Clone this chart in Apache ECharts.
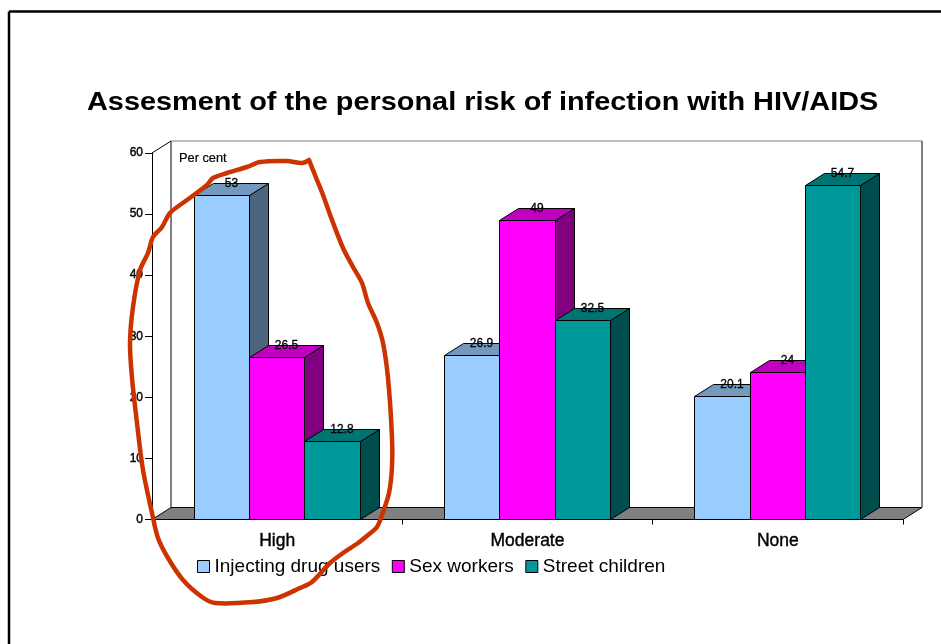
<!DOCTYPE html>
<html>
<head>
<meta charset="utf-8">
<title>Assesment of the personal risk of infection with HIV/AIDS</title>
<style>
html, body { margin: 0; padding: 0; background: #fff; }
#main { width: 941px; height: 644px; }
</style>
<script src="https://cdn.jsdelivr.net/npm/echarts@6/dist/echarts.min.js"></script>
</head>
<body>
<div id="main"></div>
<script>
var chartTitle = 'Assesment of the personal risk of infection with HIV/AIDS';
var categories = ['High', 'Moderate', 'None'];
var drugUsers = [53, 26.9, 20.1];
var sexWorkers = [26.5, 49, 24];
var streetChildren = [12.8, 32.5, 54.7];
var yTicks = [0, 10, 20, 30, 40, 50, 60];

// hand drawn circle round the "High" group
var redCircle = [
    [309, 160], [317, 180], [323, 195], [332, 220], [343, 248], [353, 267], [362, 283],
    [368, 303], [377, 323], [383, 343], [388, 378], [392, 437], [392, 467], [389, 493],
    [383, 512], [377, 527], [368, 535], [358, 543], [343, 553], [330, 563], [312, 582],
    [300, 588], [277, 598], [253, 602], [215, 603], [202, 597], [183, 580], [168, 558],
    [158, 538], [152, 513], [143, 470], [137, 423], [132, 378], [130, 343], [133, 307],
    [140, 270], [148, 253], [153, 237], [162, 227], [170, 213], [187, 200], [207, 185],
    [213, 178], [227, 173], [247, 167], [260, 162], [287, 161], [302, 163], [309, 160]
];

var fontName = '"Liberation Sans", Arial, sans-serif';
var depthX = 19;
var depthY = 12;
var barShare = 0.221;

var seriesStyles = [
    { name: 'Injecting drug users', values: drugUsers, front: '#99CCFF', top: '#7399BF', side: '#4D6680' },
    { name: 'Sex workers', values: sexWorkers, front: '#FF00FF', top: '#BF00BF', side: '#800080' },
    { name: 'Street children', values: streetChildren, front: '#009999', top: '#007373', side: '#004D4D' }
];

function poly(points, fill, stroke) {
    return {
        type: 'polygon',
        shape: { points: points },
        style: { fill: fill, stroke: stroke || '#000', lineWidth: 1 }
    };
}

function segment(x1, y1, x2, y2, color) {
    return {
        type: 'line',
        shape: { x1: x1, y1: y1, x2: x2, y2: y2 },
        style: { stroke: color || '#000', lineWidth: 1 }
    };
}

// back wall, side wall and floor of the 3D box
function renderFrame(params, api) {
    var c = params.coordSys;
    var l = c.x, t = c.y, r = c.x + c.width, b = c.y + c.height;
    return {
        type: 'group',
        children: [
            { type: 'rect', shape: { x: l + depthX, y: t - depthY, width: c.width, height: c.height }, style: { fill: '#fff' } },
            poly([[l, b], [l + depthX, b - depthY], [r + depthX, b - depthY], [r, b]], '#808080'),
            segment(l, t, l + depthX, t - depthY),
            segment(l + depthX, t - depthY, l + depthX, b - depthY),
            segment(l + depthX, t - depthY, r + depthX, t - depthY, '#808080'),
            segment(r + depthX, t - depthY, r + depthX, b - depthY)
        ]
    };
}

function makeBarRenderer(index) {
    return function (params, api) {
        var cat = api.value(0);
        var val = api.value(1);
        var base = api.coord([cat, 0]);
        var head = api.coord([cat, val]);
        var w = api.size([1, 0])[0] * barShare;
        var x0 = Math.floor(base[0] + (index - 1.5) * w) + 0.5;
        var x1 = Math.floor(base[0] + (index - 0.5) * w) + 0.5;
        var y0 = Math.floor(base[1]) + 0.5;
        var y1 = Math.floor(head[1]) + 0.5;
        var s = seriesStyles[index];
        return {
            type: 'group',
            children: [
                poly([[x1, y1], [x1 + depthX, y1 - depthY], [x1 + depthX, y0 - depthY], [x1, y0]], s.side),
                poly([[x0, y1], [x0 + depthX, y1 - depthY], [x1 + depthX, y1 - depthY], [x1, y1]], s.top),
                poly([[x0, y1], [x1, y1], [x1, y0], [x0, y0]], s.front),
                {
                    type: 'text',
                    z2: 10,
                    x: (x0 + x1) / 2 + depthX / 2,
                    y: y1 - depthY,
                    style: {
                        text: String(val),
                        fill: '#000',
                        stroke: '#000',
                        lineWidth: 0.3,
                        font: '12px ' + fontName,
                        align: 'center',
                        verticalAlign: 'middle'
                    }
                }
            ]
        };
    };
}

var series = [{
    type: 'custom',
    name: 'frame',
    z: 1,
    silent: true,
    clip: false,
    renderItem: renderFrame,
    data: [[0, 0]],
    encode: { x: 0, y: 1 }
}];

seriesStyles.forEach(function (s, i) {
    series.push({
        type: 'custom',
        name: s.name,
        z: 2 + i,
        clip: false,
        renderItem: makeBarRenderer(i),
        itemStyle: { color: s.front },
        encode: { x: 0, y: 1 },
        data: s.values.map(function (v, k) { return [k, v]; })
    });
});

var option = {
    animation: false,
    backgroundColor: '#fff',
    legend: {
        left: 197,
        top: 557,
        itemWidth: 12,
        itemHeight: 12,
        itemGap: 11.5,
        padding: 0,
        textStyle: {
            color: '#000',
            fontSize: 19,
            fontFamily: fontName
        },
        data: seriesStyles.map(function (s) {
            return {
                name: s.name,
                icon: 'rect',
                itemStyle: { color: s.front, borderColor: '#000', borderWidth: 1 }
            };
        })
    },
    grid: { left: 152, right: 38, top: 153, bottom: 124.5 },
    xAxis: {
        type: 'category',
        data: categories,
        axisLine: { lineStyle: { color: '#000', width: 1 } },
        axisTick: { show: true, length: 5, lineStyle: { color: '#000' } },
        axisLabel: {
            color: '#000',
            fontSize: 17.5,
            margin: 13,
            textBorderColor: '#000',
            textBorderWidth: 0.4,
            fontFamily: fontName
        }
    },
    yAxis: {
        type: 'value',
        min: yTicks[0],
        max: yTicks[yTicks.length - 1],
        interval: 10,
        splitLine: { show: false },
        axisLine: { show: true, lineStyle: { color: '#000', width: 1 } },
        axisTick: { show: true, length: 7, lineStyle: { color: '#000' } },
        axisLabel: {
            color: '#000',
            fontSize: 12,
            margin: 9,
            textBorderColor: '#000',
            textBorderWidth: 0.4,
            fontFamily: fontName
        }
    },
    graphic: [
        { type: 'line', z: 50, shape: { x1: 9, y1: 11.4, x2: 941, y2: 11.4 }, style: { stroke: '#000', lineWidth: 2.5 } },
        { type: 'line', z: 50, shape: { x1: 9, y1: 11.4, x2: 9, y2: 644 }, style: { stroke: '#000', lineWidth: 2.5 } },
        {
            // original is stretched sideways, so the title is scaled rather than just made bigger
            type: 'text',
            z: 50,
            x: 87,
            y: 103,
            scaleX: 1.111,
            style: {
                text: chartTitle,
                fill: '#000',
                font: 'bold 26px ' + fontName,
                verticalAlign: 'middle'
            }
        },
        {
            type: 'text',
            z: 50,
            x: 179,
            y: 158,
            style: {
                text: 'Per cent',
                fill: '#000',
                stroke: '#000',
                lineWidth: 0.2,
                font: '12.8px ' + fontName,
                verticalAlign: 'middle'
            }
        },
        {
            type: 'polyline',
            z: 60,
            shape: { points: redCircle, smooth: 0.3 },
            style: { stroke: '#CC3300', lineWidth: 4.5, fill: null, lineJoin: 'round', lineCap: 'round' }
        }
    ],
    series: series
};

var myChart = echarts.init(document.getElementById('main'), null, { renderer: 'canvas' });
myChart.setOption(option);
window.addEventListener('resize', myChart.resize);
</script>
</body>
</html>
